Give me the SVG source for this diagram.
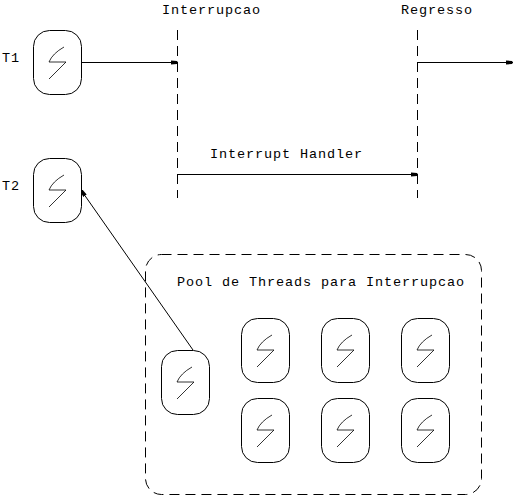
<svg xmlns="http://www.w3.org/2000/svg" width="514" height="495" viewBox="0 0 514 495">
<style>
text{font-family:"Liberation Mono","DejaVu Sans Mono",monospace;font-size:13.5px;letter-spacing:0.9px;fill:#000}
.l{fill:none;stroke:#000;stroke-width:1}
.s{fill:none;stroke:#000;stroke-width:0.8}
.d{fill:none;stroke:#000;stroke-width:1;stroke-dasharray:10 6}
.b{fill:#fff;stroke:#000;stroke-width:1}
</style>
<defs>
<marker id="a" markerUnits="userSpaceOnUse" markerWidth="8" markerHeight="6" refX="7" refY="3" orient="auto"><path d="M0 1L6 1.500L7 3L6 4.500L0 5Z" fill="#000"/></marker>
<g id="t"><rect class="b" x="0" y="0" width="48" height="64" rx="16" ry="16"/><path class="s" d="M30.500 16.500Q19 23 15.500 31.500H32.500L15.500 48.500"/></g>
</defs>
<rect width="514" height="495" fill="#fff"/>
<g id="connectors">
<path class="d" d="M177.500 30V198"/>
<path class="d" d="M417.500 30V198"/>
<path class="l" marker-end="url(#a)" d="M82 62.500H178"/>
<path class="l" marker-end="url(#a)" d="M418 62.500H513"/>
<path class="l" marker-end="url(#a)" d="M178 174.500H418"/>
<path class="l" marker-end="url(#a)" d="M193 350L81 190"/>
</g>
<g id="pool"><rect class="d" x="145.500" y="254.500" width="336" height="240" rx="16" ry="16"/></g>
<g id="t1"><use href="#t" x="33.500" y="30.500"/></g>
<g id="t2"><use href="#t" x="33.500" y="158.500"/></g>
<g id="p0"><use href="#t" x="161.500" y="350.500"/></g>
<g id="p1"><use href="#t" x="241.500" y="318.500"/></g>
<g id="p2"><use href="#t" x="321.500" y="318.500"/></g>
<g id="p3"><use href="#t" x="401.500" y="318.500"/></g>
<g id="p4"><use href="#t" x="241.500" y="398.500"/></g>
<g id="p5"><use href="#t" x="321.500" y="398.500"/></g>
<g id="p6"><use href="#t" x="401.500" y="398.500"/></g>
<g id="labels">
<text x="2" y="62">T1</text>
<text x="2" y="190">T2</text>
<text x="162" y="14">Interrupcao</text>
<text x="401" y="14">Regresso</text>
<text x="210" y="158">Interrupt Handler</text>
<text x="177" y="286">Pool de Threads para Interrupcao</text>
</g>
</svg>
